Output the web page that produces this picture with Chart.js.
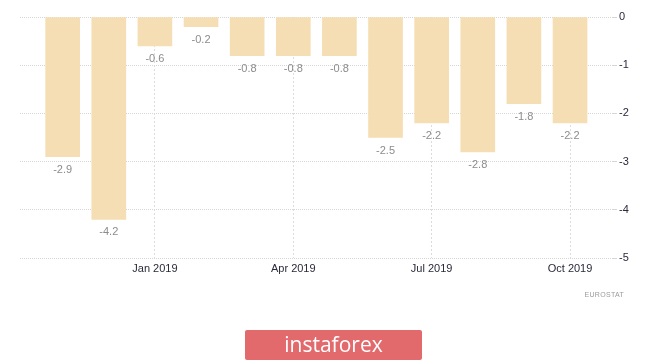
<!DOCTYPE html>
<html>
<head>
<meta charset="utf-8">
<script src="https://cdn.jsdelivr.net/npm/chart.js@4"></script>
<style>
  html, body { margin: 0; padding: 0; background: #fff; }
  #wrap { position: relative; width: 665px; height: 361px; overflow: hidden; }
  #chart { position: absolute; left: 0; top: 0; }
  .source {
    position: absolute; right: 41px; top: 291px;
    font: 7px "Liberation Sans", Arial, sans-serif; color: #9a9a9a; letter-spacing: 0.3px;
  }
  .banner {
    position: absolute; left: 245px; top: 330px; width: 177px; height: 30px;
    background: #e26a6c; border-radius: 2px; color: #fff;
    font: 21px "Open Sans", sans-serif; text-align: center; line-height: 29px;
  }
</style>
</head>
<body>
<div id="wrap">
  <canvas id="chart" width="665" height="361"></canvas>
  <div class="source">EUROSTAT</div>
  <div class="banner">instaforex</div>
</div>
<script>
const months = ["Nov 2018", "Dec 2018", "Jan 2019", "Feb 2019", "Mar 2019", "Apr 2019",
                "May 2019", "Jun 2019", "Jul 2019", "Aug 2019", "Sep 2019", "Oct 2019"];
const values = [-2.9, -4.2, -0.6, -0.2, -0.8, -0.8, -0.8, -2.5, -2.2, -2.8, -1.8, -2.2];
const xTickLabels = ["Jan 2019", "Apr 2019", "Jul 2019", "Oct 2019"];
const yTicks = [0, -1, -2, -3, -4, -5];

const FONT = "'Liberation Sans', Arial, sans-serif";

// value labels under each bar end
const barLabels = {
    id: "barLabels",
    afterDatasetsDraw(chart) {
        const ctx = chart.ctx;
        const meta = chart.getDatasetMeta(0);
        ctx.save();
        ctx.font = "11px " + FONT;
        ctx.fillStyle = "#8c8c8c";
        ctx.textAlign = "center";
        ctx.textBaseline = "middle";
        meta.data.forEach((bar, i) => {
            ctx.fillText(values[i].toFixed(1), bar.x, bar.y + 13);
        });
        ctx.restore();
    }
};

function initChart() {
    const ctx = document.getElementById("chart").getContext("2d");

    new Chart(ctx, {
        type: "bar",
        data: {
            datasets: [{
                data: values.map((v, i) => ({ x: i, y: v })),
                backgroundColor: "#f5deb3",
                borderWidth: 0,
                barThickness: 34
            }]
        },
        options: {
            responsive: false,
            animation: false,
            layout: { padding: { left: 20, top: 17, right: 23, bottom: 73 } },
            plugins: { legend: { display: false }, tooltip: { enabled: false } },
            scales: {
                x: {
                    type: "linear",
                    offset: false,
                    min: -0.925,
                    max: 11.91,
                    afterBuildTicks: s => {
                        s.ticks = xTickLabels.map(l => ({ value: months.indexOf(l) }));
                    },
                    afterFit: s => { s.height = 30; },
                    ticks: {
                        callback: v => months[v],
                        font: { family: FONT, size: 11 },
                        color: "#2a2a3a",
                        padding: 4,
                        maxRotation: 0
                    },
                    grid: {
                        color: "#dcdcdc",
                        offset: false,
                        drawTicks: false
                    },
                    border: { display: false, dash: [2, 2] }
                },
                y: {
                    position: "right",
                    min: -5,
                    max: 0,
                    afterBuildTicks: s => {
                        s.ticks = yTicks.map(v => ({ value: v }));
                    },
                    afterFit: s => { s.width = 30; },
                    ticks: {
                        font: { family: FONT, size: 11 },
                        color: "#2a2a3a",
                        padding: 2
                    },
                    grid: {
                        color: "#d6d6d6",
                        tickLength: 5
                    },
                    border: { display: false, dash: [1, 1] }
                }
            }
        },
        plugins: [barLabels]
    });
}

initChart();
</script>
</body>
</html>
